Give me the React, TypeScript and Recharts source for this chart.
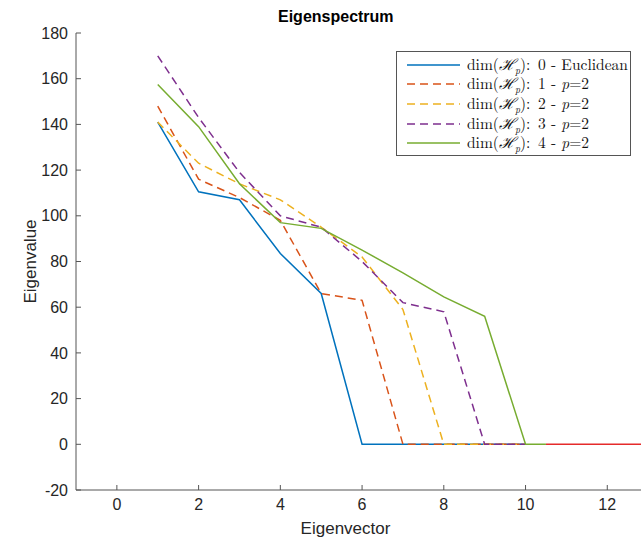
import React from 'react';
import { LineChart, Line, XAxis, YAxis } from 'recharts';

const eigenvectorIndex = [1, 2, 3, 4, 5, 6, 7, 8, 9, 10];
const dim0Euclidean = [141, 110.5, 107, 83.5, 66, 0, 0, 0, 0, 0];
const dim1 = [148, 116, 108, 98, 66, 63, 0, 0, 0, 0];
const dim2 = [141, 123, 114, 107, 95, 82, 59, 0, 0, 0];
const dim3 = [170, 143, 119, 100, 95, 80, 62, 58, 0, 0];
const dim4 = [157.5, 139, 114, 97, 94.5, 85, 75, 64.5, 56, 0];
const dim4TailX = [10, 10.5];
const dim4TailY = [0, 0];
const redTailX = [10.5, 14];
const redTailY = [0, 0];

const xTicks = [0, 2, 4, 6, 8, 10, 12];
const yTicks = [-20, 0, 20, 40, 60, 80, 100, 120, 140, 160, 180];

const legendLabels = ['0 - Euclidean', '1 - p=2', '2 - p=2', '3 - p=2', '4 - p=2'];

const toPts = (xs: number[], ys: number[]) => xs.map((x, i) => ({ x, y: ys[i] }));

const series = [
  { name: 'dim0', data: toPts(eigenvectorIndex, dim0Euclidean), color: '#0072BD', dash: undefined },
  { name: 'dim1', data: toPts(eigenvectorIndex, dim1), color: '#D95319', dash: '8 5' },
  { name: 'dim2', data: toPts(eigenvectorIndex, dim2), color: '#EDB120', dash: '8 5' },
  { name: 'dim3', data: toPts(eigenvectorIndex, dim3), color: '#7E2F8E', dash: '8 5' },
  { name: 'dim4', data: [...toPts(eigenvectorIndex, dim4), ...toPts(dim4TailX.slice(1), dim4TailY.slice(1))], color: '#77AC30', dash: undefined },
];

const axisColor = '#555555';
const textColor = '#262626';
const sansFont = 'Arial, "Liberation Sans", Helvetica, sans-serif';
const serifFont = '"Latin Modern Roman", "CMU Serif", "Liberation Serif", "DejaVu Serif", serif';

function LegendBox() {
  return (
    <div
      style={{
        position: 'absolute',
        left: 388,
        top: 43,
        width: 235,
        height: 105,
        border: '1.5px solid #555',
        background: '#fff',
        boxSizing: 'border-box',
        fontFamily: serifFont,
        fontSize: 15.5,
        color: '#111',
        paddingTop: 3,
      }}
    >
      {legendLabels.map((lab, i) => {
        const s = series[i];
        const [num, rest] = lab.split(' - ');
        return (
          <div key={i} style={{ display: 'flex', alignItems: 'center', height: 19.6, whiteSpace: 'nowrap' }}>
            <svg width={70} height={10} style={{ flex: 'none' }}>
              <line x1={10} y1={5} x2={63} y2={5} stroke={s.color} strokeWidth={1.5} strokeDasharray={s.dash} />
            </svg>
            <span>
              dim(<span style={{ fontStyle: 'italic' }}>ℋ</span>
              <sub style={{ fontStyle: 'italic', fontSize: 10 }}>p</sub>):&nbsp;{num} -{' '}
              {rest === 'Euclidean' ? 'Euclidean' : (<><span style={{ fontStyle: 'italic' }}>p</span>=2</>)}
            </span>
          </div>
        );
      })}
    </div>
  );
}

export default function App() {
  return (
    <div style={{ position: 'fixed', left: 0, top: 0, width: 641, height: 546, overflow: 'hidden', background: '#fff' }}>
      <div style={{ position: 'absolute', left: 8, top: 8, width: 633, height: 538, overflow: 'hidden' }}>
        <div
          style={{
            position: 'absolute',
            left: 270,
            top: 0,
            width: 104,
            textAlign: 'center',
            fontFamily: sansFont,
            fontWeight: 'bold',
            fontSize: 16,
            color: '#000',
            lineHeight: '18px',
          }}
        >
          Eigenspectrum
        </div>
        <LineChart width={700} height={538} margin={{ top: 25, right: 19, bottom: 0, left: 0 }}>
          <XAxis
            xAxisId="top"
            orientation="top"
            type="number"
            dataKey="x"
            domain={[-1, 14]}
            ticks={xTicks}
            height={0}
            axisLine={{ stroke: axisColor, strokeWidth: 1 }}
            tickLine={{ stroke: axisColor }}
            tickSize={-5}
            tick={() => <g />}
            allowDataOverflow
          />
          <XAxis
            type="number"
            dataKey="x"
            domain={[-1, 14]}
            ticks={xTicks}
            height={56}
            axisLine={{ stroke: axisColor, strokeWidth: 1 }}
            tickLine={{ stroke: axisColor }}
            tickSize={-5}
            tickMargin={14}
            tick={{ fill: textColor, fontFamily: sansFont, fontSize: 16 }}
            allowDataOverflow
            label={{ value: 'Eigenvector', position: 'insideBottom', offset: 12, dx: -37, fill: textColor, fontFamily: sansFont, fontSize: 17 }}
          />
          <YAxis
            type="number"
            domain={[-20, 180]}
            ticks={yTicks}
            width={68}
            axisLine={{ stroke: axisColor, strokeWidth: 1 }}
            tickLine={{ stroke: axisColor }}
            tickSize={-5}
            tickMargin={13}
            tick={{ fill: textColor, fontFamily: sansFont, fontSize: 16 }}
            allowDataOverflow
            label={{ value: 'Eigenvalue', angle: -90, position: 'center', dx: -12, fill: textColor, fontFamily: sansFont, fontSize: 17 }}
          />
          <Line
            data={toPts(redTailX, redTailY)}
            dataKey="y"
            stroke="#E52B2B"
            strokeWidth={1.5}
            dot={false}
            isAnimationActive={false}
            legendType="none"
          />
          {series.map((s) => (
            <Line
              key={s.name}
              data={s.data}
              dataKey="y"
              name={s.name}
              stroke={s.color}
              strokeWidth={1.5}
              strokeDasharray={s.dash}
              dot={false}
              isAnimationActive={false}
            />
          ))}
        </LineChart>
        <LegendBox />
      </div>
    </div>
  );
}
